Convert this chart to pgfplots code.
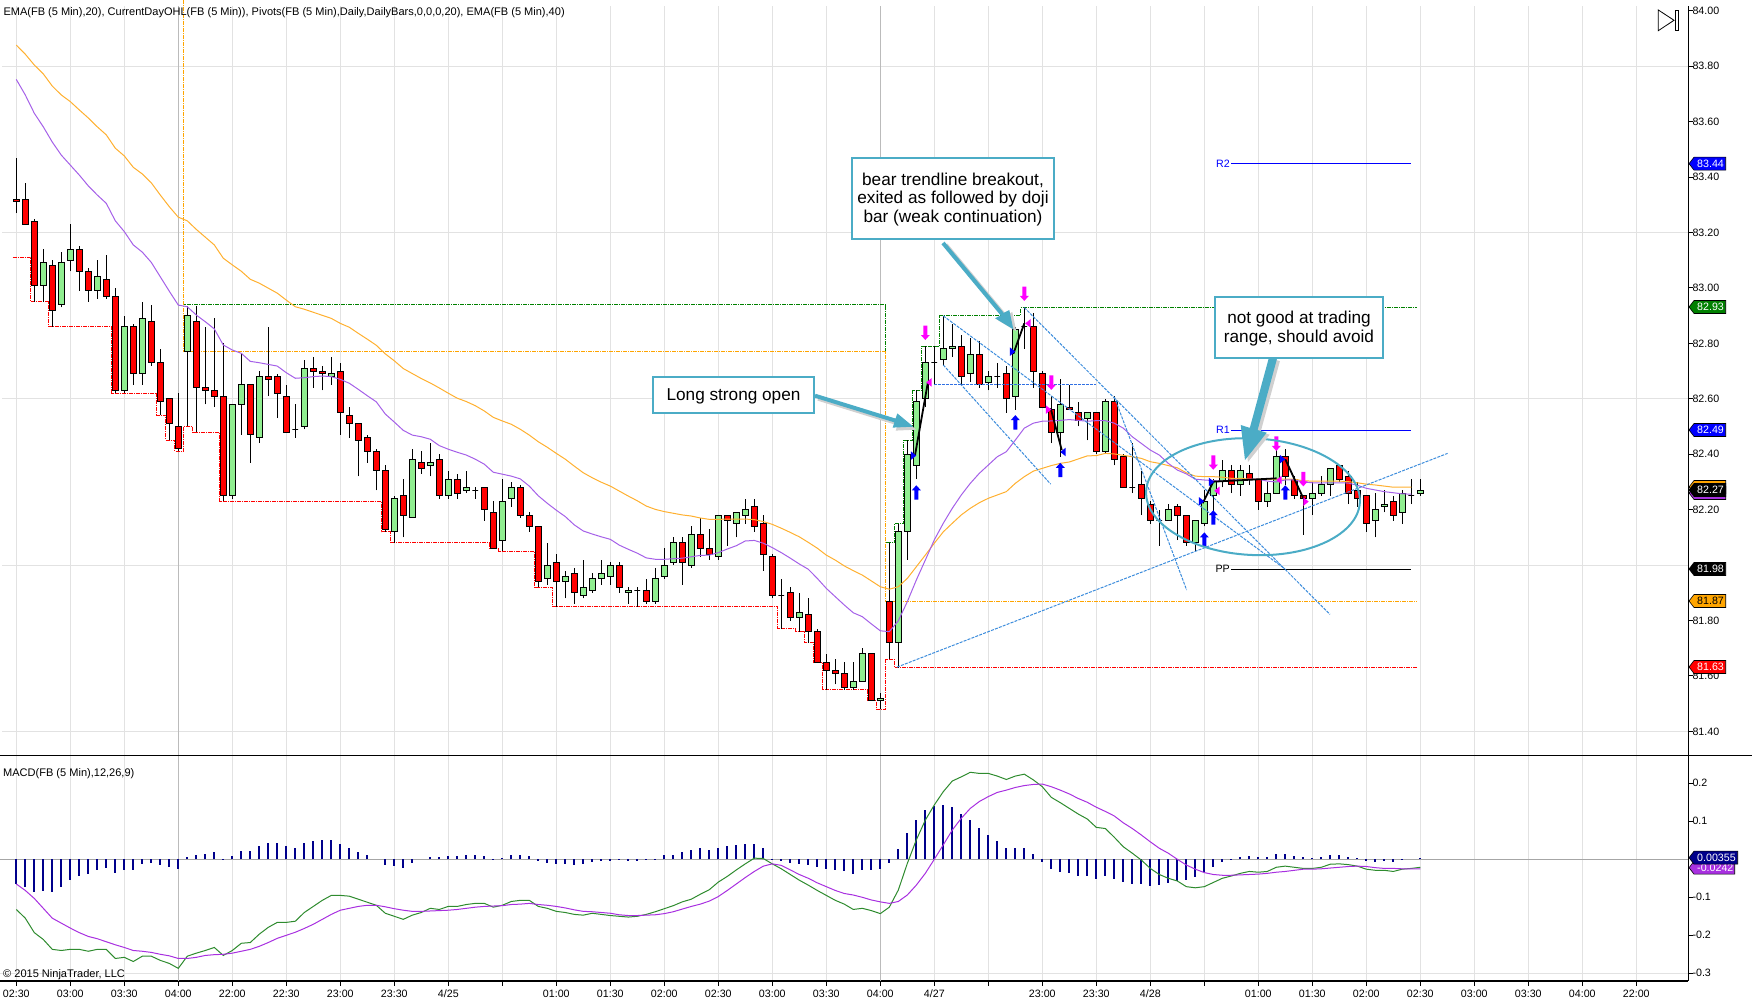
\documentclass[border=0pt]{standalone}
\usepackage{pgfplots}
\pgfplotsset{compat=1.18}
\usepackage{fontspec}
\setmainfont{Liberation Sans}
\definecolor{barup}{HTML}{90EE90}
\definecolor{bardn}{HTML}{FF0000}
\definecolor{gridc}{HTML}{E2E2E2}
\definecolor{sess}{HTML}{BBBBBB}
\definecolor{emaP}{HTML}{A560E8}
\definecolor{emaO}{HTML}{FFB030}
\definecolor{ohlG}{HTML}{008000}
\definecolor{ohlO}{HTML}{FFA500}
\definecolor{macdG}{HTML}{2E8B2E}
\definecolor{macdP}{HTML}{A830E0}
\definecolor{histc}{HTML}{00008B}
\definecolor{trend}{HTML}{3C8CDC}
\definecolor{callout}{HTML}{4BACC6}
\definecolor{shadowc}{HTML}{D0D0D0}
\definecolor{mgt}{HTML}{FF00FF}
\definecolor{blu}{HTML}{0000FF}
\definecolor{rd}{HTML}{FF0000}
\newcommand\fs{\fontsize{10.67}{12}\selectfont}
\newcommand\fh{\fontsize{11.03}{12}\selectfont}
\newcommand\fb{\fontsize{17.2}{19}\selectfont}
\pgfdeclareplotmark{upA}{\pgfpathmoveto{\pgfqpoint{0pt}{7.2pt}}\pgfpathlineto{\pgfqpoint{4.5pt}{2.2pt}}\pgfpathlineto{\pgfqpoint{2pt}{2.2pt}}\pgfpathlineto{\pgfqpoint{2pt}{-7.2pt}}\pgfpathlineto{\pgfqpoint{-2pt}{-7.2pt}}\pgfpathlineto{\pgfqpoint{-2pt}{2.2pt}}\pgfpathlineto{\pgfqpoint{-4.5pt}{2.2pt}}\pgfpathclose\pgfusepathqfill}
\pgfdeclareplotmark{dnA}{\pgfpathmoveto{\pgfqpoint{0pt}{-7.2pt}}\pgfpathlineto{\pgfqpoint{4.5pt}{-2.2pt}}\pgfpathlineto{\pgfqpoint{2pt}{-2.2pt}}\pgfpathlineto{\pgfqpoint{2pt}{7.2pt}}\pgfpathlineto{\pgfqpoint{-2pt}{7.2pt}}\pgfpathlineto{\pgfqpoint{-2pt}{-2.2pt}}\pgfpathlineto{\pgfqpoint{-4.5pt}{-2.2pt}}\pgfpathclose\pgfusepathqfill}
\pgfdeclareplotmark{rtT}{\pgfpathmoveto{\pgfqpoint{-2.7pt}{4.3pt}}\pgfpathlineto{\pgfqpoint{2.7pt}{0pt}}\pgfpathlineto{\pgfqpoint{-2.7pt}{-4.3pt}}\pgfpathclose\pgfusepathqfill}
\pgfdeclareplotmark{ltT}{\pgfpathmoveto{\pgfqpoint{2.7pt}{4.3pt}}\pgfpathlineto{\pgfqpoint{-2.7pt}{0pt}}\pgfpathlineto{\pgfqpoint{2.7pt}{-4.3pt}}\pgfpathclose\pgfusepathqfill}
\newcommand\Cc[6]{\pgfmathsetmacro\xa{#2-0.315}\pgfmathsetmacro\xb{#2+0.315}%
\addplot[forget plot,mark=none,draw=black,line width=1pt] coordinates {(#2,#6)(#2,#3)};%
\addplot[forget plot,mark=none,draw=black,fill=#1,line width=1pt] coordinates {(\xa,#5)(\xb,#5)(\xb,#4)(\xa,#4)} --cycle;}
\newcommand\Cu{\Cc{barup}}
\newcommand\Cd{\Cc{bardn}}
\newcommand\Tag[5]{\fill[#2,draw=black,line width=0.6pt] (1689,#1)--(1694,#1-6.5)--(#5,#1-6.5)--(#5,#1+6.5)--(1694,#1+6.5)--cycle; \node[anchor=west,inner sep=0pt,font=\fs,text=#3] at (1697,#1) {#4};}
\begin{document}
\begin{tikzpicture}
\useasboundingbox (0pt,0pt) rectangle (1752pt,1008pt);
\begin{axis}[name=price,at={(0pt,252.7pt)},anchor=south west,scale only axis,width=1688.3pt,height=749.3pt,
 xmin=-1.811,xmax=185.78,ymin=81.3139,ymax=84.01696,clip=false,
 axis y line=right,axis x line=bottom,axis line style={-,line width=1.1pt,black},
 xtick={0,6,...,180},xticklabels={},x tick style={draw=none},xmajorgrids,grid style={gridc,line width=1pt},
 ytick={81.4,81.6,81.8,82.2,82.4,82.6,82.8,83,83.2,83.4,83.6,83.8,84},
 yticklabels={81.40,81.60,81.80,82.20,82.40,82.60,82.80,83.00,83.20,83.40,83.60,83.80,84.00},
 tick align=outside,major tick length=5pt,y tick style={black,line width=1pt},
 y tick label style={font=\fs,anchor=west,inner sep=0pt,xshift=-1pt}]
\addplot[gridc,line width=1pt,forget plot] coordinates {(-1.55,83.8)(185.78,83.8)};
\addplot[gridc,line width=1pt,forget plot] coordinates {(-1.55,83.2)(185.78,83.2)};
\addplot[gridc,line width=1pt,forget plot] coordinates {(-1.55,82.6)(185.78,82.6)};
\addplot[gridc,line width=1pt,forget plot] coordinates {(-1.55,82.0)(185.78,82.0)};
\addplot[gridc,line width=1pt,forget plot] coordinates {(-1.55,81.4)(185.78,81.4)};
\addplot[sess,line width=1.3pt,forget plot] coordinates {(18,81.3139)(18,84.017)};
\addplot[sess,line width=1.3pt,forget plot] coordinates {(96,81.3139)(96,84.017)};
% current day OHL
\addplot[bardn,line width=1pt,dash pattern=on 4pt off 1pt on 1pt off 1pt] coordinates {(-0.4,83.11)(1.6,83.11)(1.6,82.95)(3.6,82.95)(3.6,82.86)(10.6,82.86)(10.6,82.62)(15.6,82.62)(15.6,82.54)(16.6,82.54)(16.6,82.45)(17.6,82.45)(17.6,82.41)(18.6,82.41)(18.6,82.50)(19.6,82.50)(19.6,82.48)(22.6,82.48)(22.6,82.23)(40.6,82.23)(40.6,82.12)(41.6,82.12)(41.6,82.08)(52.6,82.08)(52.6,82.06)(53.6,82.06)(53.6,82.05)(57.6,82.05)(57.6,81.92)(59.6,81.92)(59.6,81.85)(84.6,81.85)(84.6,81.77)(86.6,81.77)(86.6,81.76)(87.6,81.76)(87.6,81.72)(88.6,81.72)(88.6,81.65)(89.6,81.65)(89.6,81.55)(94.6,81.55)(94.6,81.51)(95.6,81.51)(95.6,81.48)(96.6,81.48)(96.6,81.66)(97.6,81.66)(97.6,81.632)(155.6,81.632)};
\addplot[ohlG,line width=1pt,dash pattern=on 4pt off 1pt on 1pt off 1pt] coordinates {(18.6,84.0386)(18.6,82.94)(96.6,82.94)(96.6,82.08)(97.6,82.08)(97.6,82.15)(98.6,82.15)(98.6,82.45)(99.6,82.45)(99.6,82.63)(100.6,82.63)(100.6,82.79)(102.6,82.79)(102.6,82.90)(111.6,82.90)(111.6,82.928)(155.6,82.928)};
\addplot[ohlO,line width=1pt,dash pattern=on 4pt off 1pt on 1pt off 1pt] coordinates {(18.6,84.0386)(18.6,82.77)(96.6,82.77)(96.6,81.868)(155.6,81.868)};
% candles: position, high, body top, body bottom, low
\Cd{0}{83.47}{83.32}{83.31}{83.27}
\Cd{1}{83.38}{83.32}{83.23}{83.23}
\Cd{2}{83.25}{83.24}{83.01}{82.95}
\Cu{3}{83.14}{83.09}{83.01}{82.95}
\Cd{4}{83.10}{83.08}{82.92}{82.86}
\Cu{5}{83.13}{83.09}{82.94}{82.93}
\Cu{6}{83.23}{83.14}{83.10}{83.06}
\Cd{7}{83.15}{83.14}{83.06}{82.99}
\Cd{8}{83.07}{83.06}{82.99}{82.95}
\Cu{9}{83.10}{83.04}{82.99}{82.96}
\Cd{10}{83.12}{83.03}{82.97}{82.96}
\Cd{11}{83.00}{82.97}{82.63}{82.62}
\Cu{12}{82.90}{82.86}{82.63}{82.62}
\Cd{13}{82.87}{82.86}{82.69}{82.65}
\Cu{14}{82.95}{82.89}{82.69}{82.65}
\Cd{15}{82.94}{82.88}{82.73}{82.72}
\Cd{16}{82.78}{82.73}{82.59}{82.54}
\Cd{17}{82.60}{82.60}{82.51}{82.45}
\Cd{18}{82.62}{82.50}{82.42}{82.41}
\Cu{19}{82.935}{82.90}{82.77}{82.50}
\Cd{20}{82.935}{82.88}{82.64}{82.48}
\Cd{21}{82.86}{82.64}{82.63}{82.58}
\Cd{22}{82.89}{82.63}{82.61}{82.57}
\Cd{23}{82.80}{82.61}{82.25}{82.23}
\Cu{24}{82.58}{82.58}{82.25}{82.24}
\Cu{25}{82.76}{82.65}{82.58}{82.47}
\Cd{26}{82.65}{82.65}{82.47}{82.37}
\Cu{27}{82.70}{82.68}{82.46}{82.44}
\Cd{28}{82.86}{82.68}{82.67}{82.61}
\Cd{29}{82.69}{82.68}{82.62}{82.53}
\Cd{30}{82.65}{82.61}{82.48}{82.48}
\Cu{31}{82.58}{82.49}{82.49}{82.46}
\Cu{32}{82.74}{82.71}{82.50}{82.49}
\Cd{33}{82.75}{82.71}{82.70}{82.64}
\Cd{34}{82.72}{82.70}{82.69}{82.63}
\Cu{35}{82.75}{82.69}{82.68}{82.65}
\Cd{36}{82.73}{82.70}{82.55}{82.47}
\Cd{37}{82.57}{82.54}{82.51}{82.46}
\Cd{38}{82.51}{82.51}{82.45}{82.32}
\Cd{39}{82.47}{82.46}{82.41}{82.37}
\Cd{40}{82.42}{82.41}{82.34}{82.27}
\Cd{41}{82.36}{82.34}{82.13}{82.12}
\Cu{42}{82.25}{82.24}{82.12}{82.08}
\Cd{43}{82.31}{82.25}{82.18}{82.10}
\Cu{44}{82.42}{82.38}{82.17}{82.17}
\Cd{45}{82.41}{82.37}{82.35}{82.33}
\Cu{46}{82.44}{82.37}{82.36}{82.32}
\Cd{47}{82.40}{82.38}{82.25}{82.24}
\Cu{48}{82.34}{82.31}{82.25}{82.24}
\Cd{49}{82.33}{82.31}{82.26}{82.24}
\Cu{50}{82.34}{82.28}{82.27}{82.26}
\Cu{51}{82.28}{82.27}{82.27}{82.24}
\Cd{52}{82.28}{82.28}{82.20}{82.16}
\Cd{53}{82.23}{82.19}{82.06}{82.06}
\Cu{54}{82.31}{82.23}{82.09}{82.05}
\Cu{55}{82.30}{82.28}{82.24}{82.21}
\Cd{56}{82.29}{82.28}{82.18}{82.17}
\Cd{57}{82.19}{82.18}{82.14}{82.12}
\Cd{58}{82.14}{82.14}{81.94}{81.92}
\Cu{59}{82.08}{82.00}{81.95}{81.93}
\Cd{60}{82.04}{82.01}{81.94}{81.85}
\Cu{61}{81.98}{81.96}{81.94}{81.88}
\Cd{62}{81.99}{81.97}{81.90}{81.86}
\Cu{63}{82.02}{81.92}{81.89}{81.88}
\Cu{64}{81.97}{81.95}{81.91}{81.90}
\Cu{65}{82.02}{81.97}{81.95}{81.93}
\Cu{66}{82.01}{82.00}{81.96}{81.93}
\Cd{67}{82.01}{82.00}{81.92}{81.90}
\Cu{68}{81.92}{81.91}{81.90}{81.86}
\Cu{69}{81.92}{81.91}{81.91}{81.85}
\Cd{70}{81.95}{81.91}{81.87}{81.86}
\Cu{71}{81.99}{81.95}{81.87}{81.86}
\Cu{72}{82.06}{82.00}{81.96}{81.95}
\Cu{73}{82.10}{82.08}{82.01}{82.00}
\Cd{74}{82.10}{82.08}{82.01}{81.93}
\Cu{75}{82.14}{82.11}{82.00}{81.99}
\Cd{76}{82.17}{82.11}{82.06}{82.03}
\Cd{77}{82.13}{82.06}{82.04}{82.02}
\Cu{78}{82.18}{82.18}{82.03}{82.02}
\Cd{79}{82.18}{82.18}{82.16}{82.07}
\Cu{80}{82.19}{82.19}{82.15}{82.10}
\Cu{81}{82.24}{82.20}{82.18}{82.15}
\Cd{82}{82.24}{82.21}{82.14}{82.12}
\Cd{83}{82.18}{82.15}{82.04}{81.98}
\Cd{84}{82.04}{82.03}{81.89}{81.88}
\Cu{85}{81.95}{81.89}{81.89}{81.77}
\Cd{86}{81.92}{81.90}{81.81}{81.80}
\Cu{87}{81.90}{81.83}{81.81}{81.76}
\Cd{88}{81.88}{81.82}{81.76}{81.72}
\Cd{89}{81.77}{81.76}{81.65}{81.65}
\Cd{90}{81.68}{81.65}{81.62}{81.55}
\Cd{91}{81.66}{81.62}{81.61}{81.57}
\Cd{92}{81.65}{81.61}{81.56}{81.55}
\Cu{93}{81.65}{81.58}{81.56}{81.55}
\Cu{94}{81.70}{81.68}{81.58}{81.58}
\Cd{95}{81.68}{81.68}{81.51}{81.51}
\Cu{96}{81.54}{81.52}{81.51}{81.48}
\Cd{97}{82.08}{81.87}{81.72}{81.66}
\Cu{98}{82.15}{82.12}{81.72}{81.63}
\Cu{99}{82.45}{82.40}{82.12}{82.02}
\Cu{100}{82.63}{82.59}{82.36}{82.31}
\Cu{101}{82.79}{82.73}{82.60}{82.57}
\Cu{102}{82.79}{82.73}{82.73}{82.65}
\Cu{103}{82.90}{82.78}{82.74}{82.72}
\Cu{104}{82.87}{82.79}{82.78}{82.75}
\Cd{105}{82.83}{82.79}{82.68}{82.65}
\Cu{106}{82.82}{82.76}{82.69}{82.66}
\Cd{107}{82.81}{82.76}{82.65}{82.64}
\Cu{108}{82.70}{82.68}{82.66}{82.63}
\Cu{109}{82.73}{82.68}{82.68}{82.64}
\Cd{110}{82.72}{82.69}{82.60}{82.55}
\Cu{111}{82.86}{82.85}{82.61}{82.56}
\Cu{112}{82.93}{82.86}{82.86}{82.78}
\Cd{113}{82.91}{82.86}{82.70}{82.64}
\Cd{114}{82.70}{82.69}{82.57}{82.57}
\Cd{115}{82.61}{82.56}{82.48}{82.44}
\Cu{116}{82.67}{82.58}{82.48}{82.39}
\Cd{117}{82.65}{82.57}{82.56}{82.56}
\Cd{118}{82.59}{82.55}{82.52}{82.50}
\Cu{119}{82.55}{82.55}{82.53}{82.45}
\Cd{120}{82.55}{82.55}{82.41}{82.40}
\Cu{121}{82.60}{82.59}{82.41}{82.40}
\Cd{122}{82.61}{82.59}{82.38}{82.36}
\Cd{123}{82.40}{82.39}{82.28}{82.28}
\Cu{124}{82.44}{82.28}{82.28}{82.26}
\Cd{125}{82.34}{82.29}{82.24}{82.18}
\Cd{126}{82.23}{82.22}{82.16}{82.15}
\Cu{127}{82.20}{82.16}{82.16}{82.07}
\Cu{128}{82.22}{82.20}{82.16}{82.16}
\Cd{129}{82.22}{82.21}{82.18}{82.09}
\Cd{130}{82.18}{82.18}{82.08}{82.07}
\Cu{131}{82.16}{82.16}{82.08}{82.05}
\Cu{132}{82.27}{82.23}{82.15}{82.14}
\Cu{133}{82.31}{82.30}{82.25}{82.18}
\Cu{134}{82.38}{82.34}{82.30}{82.28}
\Cd{135}{82.36}{82.34}{82.29}{82.26}
\Cu{136}{82.36}{82.34}{82.29}{82.25}
\Cd{137}{82.36}{82.33}{82.31}{82.29}
\Cd{138}{82.31}{82.31}{82.23}{82.20}
\Cu{139}{82.30}{82.26}{82.23}{82.21}
\Cu{140}{82.46}{82.39}{82.26}{82.26}
\Cd{141}{82.42}{82.39}{82.32}{82.29}
\Cd{142}{82.32}{82.31}{82.25}{82.24}
\Cd{143}{82.25}{82.25}{82.24}{82.11}
\Cu{144}{82.30}{82.26}{82.24}{82.18}
\Cu{145}{82.32}{82.29}{82.26}{82.25}
\Cu{146}{82.35}{82.35}{82.29}{82.25}
\Cd{147}{82.36}{82.36}{82.31}{82.30}
\Cd{148}{82.34}{82.32}{82.26}{82.22}
\Cd{149}{82.30}{82.27}{82.24}{82.21}
\Cd{150}{82.25}{82.25}{82.15}{82.12}
\Cu{151}{82.26}{82.20}{82.16}{82.10}
\Cu{152}{82.27}{82.22}{82.21}{82.19}
\Cd{153}{82.25}{82.23}{82.18}{82.16}
\Cu{154}{82.27}{82.26}{82.19}{82.15}
\Cd{155}{82.31}{82.25}{82.25}{82.22}
\Cu{156}{82.31}{82.27}{82.26}{82.25}
% EMA 40
\addplot[emaO,line width=1pt] coordinates {(0,83.876)(1,83.843)(2,83.804)(3,83.772)(4,83.728)(5,83.696)(6,83.672)(7,83.642)(8,83.613)(9,83.581)(10,83.552)(11,83.504)(12,83.476)(13,83.435)(14,83.411)(15,83.379)(16,83.335)(17,83.293)(18,83.255)(19,83.242)(20,83.211)(21,83.183)(22,83.155)(23,83.107)(24,83.083)(25,83.060)(26,83.031)(27,83.017)(28,82.999)(29,82.981)(30,82.956)(31,82.932)(32,82.923)(33,82.912)(34,82.901)(35,82.890)(36,82.872)(37,82.858)(38,82.836)(39,82.815)(40,82.793)(41,82.762)(42,82.737)(43,82.709)(44,82.691)(45,82.673)(46,82.657)(47,82.639)(48,82.620)(49,82.602)(50,82.590)(51,82.575)(52,82.556)(53,82.533)(54,82.520)(55,82.508)(56,82.490)(57,82.469)(58,82.445)(59,82.425)(60,82.403)(61,82.382)(62,82.357)(63,82.333)(64,82.315)(65,82.299)(66,82.285)(67,82.267)(68,82.249)(69,82.232)(70,82.213)(71,82.201)(72,82.193)(73,82.187)(74,82.181)(75,82.177)(76,82.170)(77,82.165)(78,82.165)(79,82.166)(80,82.166)(81,82.166)(82,82.164)(83,82.157)(84,82.147)(85,82.133)(86,82.118)(87,82.102)(88,82.082)(89,82.061)(90,82.036)(91,82.018)(92,81.997)(93,81.980)(94,81.964)(95,81.943)(96,81.922)(97,81.913)(98,81.922)(99,81.952)(100,81.994)(101,82.036)(102,82.079)(103,82.120)(104,82.151)(105,82.181)(106,82.205)(107,82.225)(108,82.241)(109,82.253)(110,82.265)(111,82.295)(112,82.319)(113,82.339)(114,82.349)(115,82.359)(116,82.367)(117,82.372)(118,82.383)(119,82.394)(120,82.395)(121,82.403)(122,82.401)(123,82.396)(124,82.391)(125,82.385)(126,82.373)(127,82.367)(128,82.359)(129,82.351)(130,82.333)(131,82.321)(132,82.319)(133,82.319)(134,82.317)(135,82.313)(136,82.313)(137,82.310)(138,82.310)(139,82.310)(140,82.310)(141,82.310)(142,82.310)(143,82.304)(144,82.303)(145,82.303)(146,82.303)(147,82.303)(148,82.301)(149,82.297)(150,82.292)(151,82.289)(152,82.285)(153,82.281)(154,82.281)(155,82.281)};
% EMA 20
\addplot[emaP,line width=1pt] coordinates {(0,83.752)(1,83.696)(2,83.630)(3,83.581)(4,83.526)(5,83.479)(6,83.443)(7,83.407)(8,83.368)(9,83.335)(10,83.305)(11,83.242)(12,83.203)(13,83.155)(14,83.129)(15,83.092)(16,83.040)(17,82.988)(18,82.938)(19,82.932)(20,82.902)(21,82.878)(22,82.852)(23,82.794)(24,82.776)(25,82.764)(26,82.735)(27,82.730)(28,82.724)(29,82.718)(30,82.694)(31,82.674)(32,82.676)(33,82.680)(34,82.682)(35,82.680)(36,82.670)(37,82.656)(38,82.634)(39,82.611)(40,82.589)(41,82.545)(42,82.516)(43,82.486)(44,82.469)(45,82.463)(46,82.454)(47,82.431)(48,82.418)(49,82.407)(50,82.397)(51,82.382)(52,82.364)(53,82.335)(54,82.328)(55,82.321)(56,82.311)(57,82.285)(58,82.250)(59,82.223)(60,82.198)(61,82.175)(62,82.145)(63,82.123)(64,82.112)(65,82.102)(66,82.093)(67,82.072)(68,82.057)(69,82.043)(70,82.026)(71,82.021)(72,82.021)(73,82.023)(74,82.025)(75,82.030)(76,82.035)(77,82.036)(78,82.045)(79,82.058)(80,82.070)(81,82.087)(82,82.089)(83,82.079)(84,82.063)(85,82.045)(86,82.025)(87,82.004)(88,81.985)(89,81.952)(90,81.916)(91,81.886)(92,81.856)(93,81.828)(94,81.814)(95,81.788)(96,81.763)(97,81.760)(98,81.799)(99,81.868)(100,81.946)(101,82.018)(102,82.091)(103,82.151)(104,82.205)(105,82.253)(106,82.295)(107,82.331)(108,82.361)(109,82.391)(110,82.409)(111,82.451)(112,82.494)(113,82.512)(114,82.519)(115,82.520)(116,82.522)(117,82.525)(118,82.522)(119,82.519)(120,82.521)(121,82.521)(122,82.512)(123,82.494)(124,82.463)(125,82.439)(126,82.415)(127,82.397)(128,82.367)(129,82.343)(130,82.329)(131,82.310)(132,82.307)(133,82.305)(134,82.303)(135,82.307)(136,82.307)(137,82.310)(138,82.310)(139,82.303)(140,82.300)(141,82.307)(142,82.307)(143,82.300)(144,82.297)(145,82.296)(146,82.297)(147,82.297)(148,82.296)(149,82.288)(150,82.277)(151,82.271)(152,82.265)(153,82.261)(154,82.257)(155,82.256)};
% pivots
\addplot[blu,line width=1pt] coordinates {(135,83.447)(155,83.447)};
\addplot[blu,line width=1pt] coordinates {(135,82.487)(155,82.487)};
\addplot[black,line width=1pt] coordinates {(135,81.985)(155,81.985)};
\node[anchor=east,inner sep=0pt,font=\fs,text=blu] at (axis cs:134.85,83.447) {R2};
\node[anchor=east,inner sep=0pt,font=\fs,text=blu] at (axis cs:134.85,82.487) {R1};
\node[anchor=east,inner sep=0pt,font=\fs] at (axis cs:134.85,81.985) {PP};
% trend lines
\addplot[trend,line width=1pt,dash pattern=on 3pt off 1.2pt] coordinates {(103,82.899)(140.97,81.986)};
\addplot[trend,line width=1pt,dash pattern=on 3pt off 1.2pt] coordinates {(103,82.722)(114.93,82.292)};
\addplot[trend,line width=1pt,dash pattern=on 3pt off 1.2pt] coordinates {(112,82.929)(145.97,81.822)};
\addplot[trend,line width=1pt,dash pattern=on 3pt off 1.2pt] coordinates {(122,82.607)(130.04,81.910)};
\addplot[trend,line width=1pt,dash pattern=on 3pt off 1.2pt] coordinates {(97.86,81.632)(159.03,82.403)};
\addplot[trend!80!blu,line width=1.2pt,dash pattern=on 3pt off 1pt] coordinates {(102,82.652)(120,82.652)};
% trade lines
\addplot[black,line width=1.8pt] coordinates {(99.86,82.397)(101.27,82.656)};
\addplot[black,line width=1.8pt] coordinates {(110.78,82.762)(112,82.872)};
\addplot[black,line width=1.8pt] coordinates {(114.93,82.566)(116.16,82.415)};
\addplot[black,line width=1.8pt] coordinates {(131.82,82.223)(133,82.301)(140.04,82.313)};
\addplot[black,line width=1.8pt] coordinates {(141,82.382)(143,82.241)};
% markers
\addplot[only marks,mark=upA,blu] coordinates {(100,82.262)(111,82.515)(116,82.343)(132,82.092)(133,82.172)(141,82.262)};
\addplot[only marks,mark=dnA,mgt] coordinates {(101,82.838)(112,82.979)(115,82.658)(133,82.370)(140,82.438)(143,82.310)};
\addplot[only marks,mark=rtT,blu] coordinates {(99.7,82.395)(110.7,82.770)(131.7,82.230)(132.8,82.300)(140.7,82.382)};
\addplot[only marks,mark=ltT,blu] coordinates {(116.3,82.408)};
\addplot[only marks,mark=ltT,mgt] coordinates {(101.4,82.659)(112.4,82.872)(133.4,82.268)(140.3,82.307)};
\addplot[only marks,mark=rtT,mgt] coordinates {(114.7,82.561)(143.3,82.229)};
\end{axis}
\begin{axis}[name=macd,at={(0pt,27pt)},anchor=south west,scale only axis,width=1688.3pt,height=225.7pt,
 xmin=-1.811,xmax=185.78,ymin=-0.32026,ymax=0.27368,clip=false,
 axis y line=right,axis x line=bottom,axis line style={-,line width=1.1pt,black},
 xtick={0,6,...,180},
 xticklabels={02:30,03:00,03:30,04:00,22:00,22:30,23:00,23:30,4/25,,01:00,01:30,02:00,02:30,03:00,03:30,04:00,4/27,,23:00,23:30,4/28,,01:00,01:30,02:00,02:30,03:00,03:30,04:00,22:00},
 xmajorgrids,grid style={gridc,line width=1pt},
 ytick={-0.3,-0.2,-0.1,0.1,0.2},yticklabels={-0.3,-0.2,-0.1,0.1,0.2},
 tick align=outside,major tick length=5pt,tick style={black,line width=1pt},
 y tick label style={font=\fs,anchor=west,inner sep=0pt,xshift=-1pt},
 x tick label style={font=\fs,anchor=north,inner sep=0pt,yshift=-3.5pt}]
\addplot[gridc,line width=1pt,forget plot] coordinates {(-1.811,-0.3)(185.78,-0.3)};
\addplot[sess,line width=1.3pt,forget plot] coordinates {(18,-0.32026)(18,0.27368)};
\addplot[sess,line width=1.3pt,forget plot] coordinates {(96,-0.32026)(96,0.27368)};
\addplot[color=black!35,line width=1.2pt,forget plot] coordinates {(-1.811,0)(185.78,0)};
\addplot[ycomb,histc,line width=1.9pt,mark=none] coordinates {(0,-.065)(1,-.072)(2,-.086)(3,-.083)(4,-.086)(5,-.072)(6,-.054)(7,-.044)(8,-.039)(9,-.027)(10,-.023)(11,-.036)(12,-.028)(13,-.028)(14,-.012)(15,-.009)(16,-.015)(17,-.020)(18,-.025)(19,.006)(20,.011)(21,.014)(22,.019)(23,-.002)(24,.009)(25,.022)(26,.022)(27,.035)(28,.043)(29,.043)(30,.035)(31,.030)(32,.043)(33,.048)(34,.051)(35,.051)(36,.040)(37,.030)(38,.019)(39,.011)(41,-.015)(42,-.018)(43,-.023)(44,-.010)(46,.006)(47,.005)(48,.009)(49,.009)(50,.011)(51,.011)(52,.009)(53,.001)(54,.003)(55,.011)(56,.011)(57,.009)(58,-.004)(59,-.010)(60,-.012)(61,-.012)(62,-.015)(63,-.012)(64,-.007)(65,-.005)(66,-.004)(67,-.003)(68,-.005)(69,-.004)(70,.001)(71,.002)(72,.010)(73,.012)(74,.020)(75,.025)(76,.030)(77,.025)(78,.030)(79,.035)(80,.037)(81,.040)(82,.040)(83,.030)(84,-.003)(85,-.005)(86,-.009)(87,-.012)(88,-.016)(89,-.020)(90,-.025)(91,-.028)(92,-.030)(93,-.039)(94,-.028)(95,-.028)(96,-.025)(97,-.010)(98,.027)(99,.069)(100,.104)(101,.130)(102,.140)(103,.143)(104,.138)(105,.119)(106,.104)(107,.082)(108,.064)(109,.048)(110,.030)(111,.030)(112,.030)(113,.014)(114,-.007)(115,-.025)(116,-.033)(117,-.036)(118,-.044)(119,-.044)(120,-.052)(121,-.044)(122,-.052)(123,-.060)(124,-.065)(125,-.065)(126,-.070)(127,-.068)(128,-.062)(129,-.057)(130,-.054)(131,-.046)(132,-.033)(133,-.020)(134,-.007)(135,-.002)(136,.006)(137,.009)(138,.006)(139,.006)(140,.014)(141,.014)(142,.009)(143,.006)(144,.004)(145,.006)(146,.011)(147,.011)(148,.006)(149,.004)(150,-.004)(151,-.007)(152,-.004)(153,-.007)(154,.001)(156,.004)};
\addplot[macdG,line width=1pt] coordinates {(0,-.132)(1,-.155)(2,-.193)(3,-.211)(4,-.237)(5,-.240)(6,-.237)(7,-.237)(8,-.242)(9,-.237)(10,-.237)(11,-.261)(12,-.258)(13,-.269)(14,-.255)(15,-.255)(16,-.266)(17,-.274)(18,-.287)(19,-.255)(20,-.247)(21,-.240)(22,-.232)(23,-.253)(24,-.240)(25,-.221)(26,-.219)(27,-.197)(28,-.179)(29,-.166)(30,-.166)(31,-.163)(32,-.140)(33,-.124)(34,-.108)(35,-.095)(36,-.095)(37,-.097)(38,-.105)(39,-.113)(40,-.121)(41,-.142)(42,-.150)(43,-.158)(44,-.147)(45,-.140)(46,-.129)(47,-.132)(48,-.124)(49,-.124)(50,-.119)(51,-.116)(52,-.116)(53,-.126)(54,-.121)(55,-.111)(56,-.108)(57,-.108)(58,-.124)(59,-.129)(60,-.137)(61,-.140)(62,-.145)(63,-.147)(64,-.142)(65,-.145)(66,-.148)(67,-.150)(68,-.152)(69,-.150)(70,-.145)(71,-.138)(72,-.130)(73,-.122)(74,-.112)(75,-.105)(76,-.092)(77,-.080)(78,-.060)(79,-.045)(80,-.028)(81,-.012)(82,.003)(83,.002)(84,-.012)(85,-.025)(86,-.040)(87,-.055)(88,-.068)(89,-.082)(90,-.095)(91,-.108)(92,-.118)(93,-.132)(94,-.129)(95,-.135)(96,-.143)(97,-.126)(98,-.081)(99,-.011)(100,.051)(101,.103)(102,.143)(103,.178)(104,.206)(105,.217)(106,.229)(107,.226)(108,.226)(109,.219)(110,.210)(111,.219)(112,.224)(113,.209)(114,.191)(115,.163)(116,.149)(117,.134)(118,.119)(119,.106)(120,.084)(121,.081)(122,.058)(123,.033)(124,.016)(125,-.002)(126,-.024)(127,-.040)(128,-.050)(129,-.057)(130,-.072)(131,-.075)(132,-.072)(133,-.061)(134,-.050)(135,-.044)(136,-.037)(137,-.032)(138,-.034)(139,-.032)(140,-.021)(141,-.018)(142,-.021)(143,-.024)(144,-.024)(145,-.021)(146,-.013)(147,-.012)(148,-.014)(149,-.018)(150,-.026)(151,-.029)(152,-.029)(153,-.032)(154,-.026)(155,-.024)(156,-.021)};
\addplot[macdP,line width=1pt] coordinates {(0,-.065)(1,-.082)(2,-.103)(3,-.129)(4,-.155)(5,-.168)(6,-.181)(7,-.193)(8,-.203)(9,-.209)(10,-.217)(11,-.225)(12,-.232)(13,-.240)(14,-.242)(15,-.245)(16,-.250)(17,-.254)(18,-.261)(19,-.261)(20,-.258)(21,-.253)(22,-.251)(23,-.250)(24,-.247)(25,-.242)(26,-.237)(27,-.229)(28,-.219)(29,-.208)(30,-.200)(31,-.192)(32,-.182)(33,-.171)(34,-.158)(35,-.145)(36,-.134)(37,-.129)(38,-.124)(39,-.121)(40,-.121)(41,-.125)(42,-.130)(43,-.134)(44,-.137)(45,-.137)(46,-.136)(47,-.135)(48,-.134)(49,-.132)(50,-.129)(51,-.126)(52,-.124)(53,-.123)(54,-.122)(55,-.119)(56,-.118)(57,-.116)(58,-.119)(59,-.121)(60,-.124)(61,-.128)(62,-.133)(63,-.137)(64,-.138)(65,-.140)(66,-.142)(67,-.146)(68,-.148)(69,-.148)(70,-.147)(71,-.146)(72,-.143)(73,-.138)(74,-.131)(75,-.124)(76,-.118)(77,-.110)(78,-.098)(79,-.082)(80,-.065)(81,-.048)(82,-.032)(83,-.018)(84,-.012)(85,-.016)(86,-.028)(87,-.040)(88,-.050)(89,-.062)(90,-.072)(91,-.082)(92,-.090)(93,-.094)(94,-.100)(95,-.107)(96,-.112)(97,-.116)(98,-.111)(99,-.094)(100,-.068)(101,-.037)(102,0)(103,.038)(104,.077)(105,.108)(106,.134)(107,.152)(108,.165)(109,.176)(110,.182)(111,.189)(112,.194)(113,.197)(114,.198)(115,.191)(116,.182)(117,.172)(118,.160)(119,.150)(120,.137)(121,.126)(122,.114)(123,.096)(124,.081)(125,.064)(126,.046)(127,.029)(128,.016)(129,0)(130,-.015)(131,-.026)(132,-.035)(133,-.040)(134,-.042)(135,-.042)(136,-.041)(137,-.040)(138,-.039)(139,-.037)(140,-.034)(141,-.032)(142,-.029)(143,-.026)(144,-.026)(145,-.025)(146,-.023)(147,-.021)(148,-.019)(149,-.018)(150,-.019)(151,-.022)(152,-.024)(153,-.024)(154,-.025)(155,-.025)(156,-.025)};
\end{axis}
\draw[black,line width=1.1pt] (0pt,252.7pt)--(1752pt,252.7pt);
\draw[callout,line width=2pt,rotate around={-3:(1253pt,511.3pt)}] (1253pt,511.3pt) ellipse [x radius=107pt,y radius=58.3pt];
\begin{scope}[x=1pt,y=-1pt,shift={(0pt,1008pt)}]
% arrows
\fill[shadowc] (818.6,396.8)--(898.6,421.6)--(900.3,416.4)--(916.3,429.7)--(895.7,430.6)--(897.4,425.4)--(817.4,400.6)--cycle;
\fill[callout] (815.6,393.8)--(895.6,418.6)--(897.3,413.4)--(913.3,426.7)--(892.7,427.6)--(894.4,422.4)--(814.4,397.6)--cycle;
\fill[shadowc] (947.55,243.7)--(1006.75,314.9)--(1012.3,312)--(1016.3,331.3)--(998,320.3)--(1003.65,317.5)--(944.45,246.3)--cycle;
\fill[callout] (944.55,241.7)--(1003.75,312.9)--(1009.3,310)--(1013.3,329.3)--(995,318.3)--(1000.65,315.5)--(941.45,244.3)--cycle;
\fill[shadowc] (1279.9,361.1)--(1260.6,432)--(1269.7,434.7)--(1248,462)--(1243.7,427)--(1252.8,429.9)--(1272.1,358.9)--cycle;
\fill[callout] (1276.9,359.1)--(1257.6,430)--(1266.7,432.7)--(1245,460)--(1240.7,425)--(1249.8,427.9)--(1269.1,356.9)--cycle;
% boxes
\draw[callout,fill=white,line width=2pt] (652.7,377) rectangle (814.3,413);
\node[font=\fb] at (733.5,396.2) {Long strong open};
\draw[callout,fill=white,line width=2pt] (852.3,157.7) rectangle (1053.5,239);
\node[font=\fb] at (953,180.5) {bear trendline breakout,};
\node[font=\fb] at (953,199.5) {exited as followed by doji};
\node[font=\fb] at (953,218.5) {bar (weak continuation)};
\draw[callout,fill=white,line width=2pt] (1215,296.7) rectangle (1383,358.3);
\node[font=\fb] at (1299,318.9) {not good at trading};
\node[font=\fb] at (1299,337.9) {range, should avoid};
% headers
\node[anchor=west,inner sep=0pt,font=\fh] at (3.3,12.3) {EMA(FB (5 Min),20), CurrentDayOHL(FB (5 Min)), Pivots(FB (5 Min),Daily,DailyBars,0,0,0,20), EMA(FB (5 Min),40)};
\node[anchor=west,inner sep=0pt,font=\fh] at (3,773.3) {MACD(FB (5 Min),12,26,9)};
\node[anchor=west,inner sep=0pt,font=\fh] at (3,975) {© 2015 NinjaTrader, LLC};
% play icon
\draw[black,line width=0.8pt] (1658.3,10)--(1674,20.3)--(1658.3,30.7)--cycle;
\draw[black,line width=0.8pt] (1675.3,10) rectangle (1678.7,30.7);
% price tags
\Tag{163.7}{blu}{white}{83.44}{1725.7}
\Tag{307}{ohlG}{white}{82.93}{1725.7}
\Tag{430}{blu}{white}{82.49}{1725.7}
\Tag{487}{ohlO}{black}{}{1725.7}
\Tag{493}{macdP}{white}{}{1725.7}
\Tag{490}{black}{white}{82.27}{1725.7}
\Tag{569}{black}{white}{81.98}{1725.7}
\Tag{601}{ohlO}{black}{81.87}{1725.7}
\Tag{667}{rd}{white}{81.63}{1725.7}
\Tag{867.7}{macdP}{white}{-0.0242}{1734.7}
\Tag{857.7}{histc}{white}{0.00355}{1737.7}
\end{scope}
\end{tikzpicture}
\end{document}
